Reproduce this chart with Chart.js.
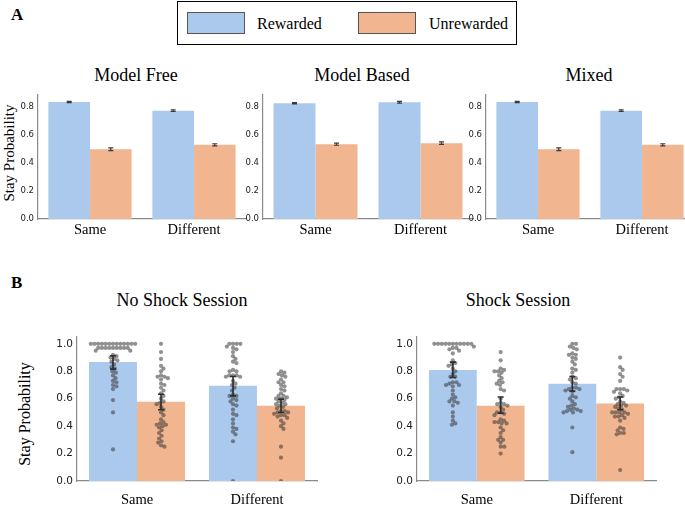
<!DOCTYPE html>
<html>
<head>
<meta charset="utf-8">
<script src="https://cdn.jsdelivr.net/npm/chart.js@4.4.1/dist/chart.umd.min.js"></script>
<style>
  html, body { margin: 0; padding: 0; background: #fff; overflow: hidden; }
  #page { position: relative; width: 685px; height: 505px; overflow: hidden;
          font-family: "Liberation Serif", "Times New Roman", serif; color: #000; }
  #page canvas { position: absolute; }
  .title { position: absolute; white-space: nowrap; transform: translate(-50%, -50%); font-size: 18px; }
  .ylab { position: absolute; white-space: nowrap; transform: translate(-50%, -50%) rotate(-90deg); }
  .letter { position: absolute; font-weight: bold; font-size: 17px; }
  #legend { position: absolute; left: 177px; top: 1px; width: 340px; height: 44px; border: 1px solid #000; box-sizing: border-box; }
  #legend .patch { position: absolute; top: 10px; width: 58px; height: 22px; border: 1px solid #555; box-sizing: border-box; }
  #legend .lab { position: absolute; top: 22px; transform: translateY(-50%); font-size: 16px; white-space: nowrap; }
</style>
</head>
<body>
<div id="page">
  <div class="letter" style="left:11px; top:5px;">A</div>
  <div class="letter" style="left:11px; top:273px;">B</div>
  <div id="legend">
    <div class="patch" id="patch0" style="left:9px;"></div>
    <div class="lab" id="lab0" style="left:79px;"></div>
    <div class="patch" id="patch1" style="left:180px;"></div>
    <div class="lab" id="lab1" style="left:251px;"></div>
  </div>

  <div class="title" style="left:136px; top:75px;">Model Free</div>
  <div class="title" style="left:362px; top:75px;">Model Based</div>
  <div class="title" style="left:589px; top:75px;">Mixed</div>
  <div class="title" style="left:182px; top:300px;">No Shock Session</div>
  <div class="title" style="left:518px; top:300px;">Shock Session</div>
  <div class="ylab" style="left:9px; top:153px; font-size:15px;">Stay Probability</div>
  <div class="ylab" style="left:25px; top:414px; font-size:16px;">Stay Probability</div>

  <canvas id="mf"></canvas>
  <canvas id="mb"></canvas>
  <canvas id="mx"></canvas>
  <canvas id="ns"></canvas>
  <canvas id="nsDots"></canvas>
  <canvas id="sh"></canvas>
  <canvas id="shDots"></canvas>
</div>
<script>
// categories and series
const categories = ['Same', 'Different'];
const seriesNames = ['Rewarded', 'Unrewarded'];
const topTicks = [0, 0.2, 0.4, 0.6, 0.8];
const bottomTicks = [0, 0.2, 0.4, 0.6, 0.8, 1.0];

// panel A: mean stay probability and error half-width
const modelFreeRewarded = [0.838, 0.776];
const modelFreeUnrewarded = [0.500, 0.531];
const modelFreeRewardedErr = [0.005, 0.006];
const modelFreeUnrewardedErr = [0.010, 0.008];

const modelBasedRewarded = [0.829, 0.836];
const modelBasedUnrewarded = [0.536, 0.543];
const modelBasedRewardedErr = [0.005, 0.006];
const modelBasedUnrewardedErr = [0.008, 0.009];

const mixedRewarded = [0.838, 0.776];
const mixedUnrewarded = [0.500, 0.531];
const mixedRewardedErr = [0.005, 0.006];
const mixedUnrewardedErr = [0.010, 0.008];

// panel B: means and confidence intervals
const noShockRewarded = [0.868, 0.695];
const noShockUnrewarded = [0.577, 0.548];
const noShockRewardedCI = [[0.816, 0.913], [0.621, 0.762]];
const noShockUnrewardedCI = [[0.520, 0.633], [0.500, 0.597]];

const shockRewarded = [0.810, 0.709];
const shockUnrewarded = [0.549, 0.565];
const shockRewardedCI = [[0.755, 0.867], [0.655, 0.762]];
const shockUnrewardedCI = [[0.495, 0.612], [0.519, 0.612]];

// individual subjects (swarm dots)
const noShockSameRew = [1,1,1,1,1,1,1,1,1,1,1,1,1,0.97,0.97,0.97,0.97,0.97,0.97,0.97,0.97,0.97,0.95,0.95,
  0.92,0.91,0.90,0.89,0.88,0.87,0.85,0.83,0.82,0.80,0.79,0.77,0.75,0.73,0.72,0.70,0.69,0.67,0.59,0.50,0.23];
const noShockSameUnrew = [1.0,0.94,0.89,0.84,0.82,0.80,0.77,0.76,0.76,0.75,0.74,0.71,0.70,0.68,0.66,0.64,0.62,0.60,
  0.58,0.57,0.56,0.54,0.52,0.50,0.48,0.45,0.43,0.42,0.41,0.41,0.40,0.39,0.37,0.35,0.33,0.31,0.29,0.28,0.26,0.25];
const noShockDiffRew = [1,1,1,1,0.98,0.97,0.96,0.94,0.91,0.89,0.87,0.86,0.81,0.80,0.80,0.77,0.77,0.77,0.76,0.76,
  0.73,0.71,0.70,0.68,0.66,0.63,0.62,0.62,0.60,0.59,0.58,0.56,0.55,0.52,0.49,0.48,0.45,0.42,0.39,0.38,0.36,0.34,0.29,0.0];
const noShockDiffUnrew = [0.80,0.79,0.78,0.77,0.76,0.74,0.72,0.72,0.70,0.69,0.67,0.66,0.64,0.62,0.62,0.61,0.60,0.60,
  0.59,0.58,0.57,0.56,0.56,0.55,0.54,0.53,0.51,0.51,0.50,0.50,0.49,0.48,0.48,0.47,0.46,0.44,0.42,0.40,0.38,0.25,0.17,0.0];

const shockSameRew = [1,1,1,1,1,1,1,1,1,1,1,0.98,0.97,0.97,0.96,0.95,0.93,0.88,0.86,0.85,0.84,0.82,0.80,0.78,0.76,0.76,
  0.72,0.72,0.71,0.70,0.70,0.69,0.66,0.63,0.61,0.60,0.58,0.58,0.57,0.55,0.50,0.47,0.44,0.42,0.41];
const shockSameUnrew = [0.94,0.88,0.82,0.81,0.80,0.80,0.79,0.77,0.75,0.73,0.72,0.71,0.70,0.67,0.66,0.60,0.57,0.56,0.56,
  0.55,0.54,0.52,0.50,0.50,0.49,0.48,0.45,0.44,0.43,0.43,0.42,0.42,0.39,0.37,0.35,0.32,0.30,0.30,0.28,0.25,0.25,0.20];
const shockDiffRew = [1,1,0.98,0.97,0.96,0.93,0.92,0.92,0.90,0.89,0.87,0.85,0.82,0.81,0.79,0.76,0.75,0.74,0.72,0.71,
  0.68,0.68,0.67,0.67,0.66,0.65,0.62,0.61,0.60,0.58,0.56,0.55,0.54,0.53,0.52,0.52,0.51,0.51,0.50,0.50,0.39,0.21];
const shockDiffUnrew = [0.90,0.83,0.81,0.78,0.76,0.73,0.67,0.67,0.67,0.66,0.65,0.64,0.62,0.61,0.60,0.58,0.57,0.56,0.55,
  0.55,0.54,0.53,0.52,0.50,0.50,0.50,0.50,0.49,0.48,0.47,0.47,0.46,0.44,0.39,0.38,0.37,0.35,0.35,0.34,0.08];

const colors = ['#abc9ec', '#f1b58f'];
const serif = '"Liberation Serif", "Times New Roman", serif';
const sans = '"DejaVu Sans", sans-serif';
const groupShift = [-0.2, 0.2]; // where each series sits inside a category

// legend
seriesNames.forEach((n, i) => {
  document.getElementById('patch' + i).style.background = colors[i];
  document.getElementById('lab' + i).textContent = n;
});

// error bars: x from the bar element, or from the linear x scale
const errorBars = {
  id: 'errorBars',
  afterDatasetsDraw(chart, args, opts) {
    const ctx = chart.ctx, y = chart.scales.y;
    (opts.ranges || []).forEach((series, di) => {
      series.forEach((r, j) => {
        const x = opts.linear ? chart.scales.x.getPixelForValue(j + groupShift[di])
                              : chart.getDatasetMeta(di).data[j].x;
        const y0 = y.getPixelForValue(r[0]), y1 = y.getPixelForValue(r[1]);
        ctx.save();
        ctx.strokeStyle = opts.color;
        ctx.lineWidth = opts.width;
        ctx.beginPath();
        ctx.moveTo(x, y0); ctx.lineTo(x, y1);
        ctx.moveTo(x - opts.cap, y0); ctx.lineTo(x + opts.cap, y0);
        ctx.moveTo(x - opts.cap, y1); ctx.lineTo(x + opts.cap, y1);
        ctx.stroke();
        ctx.restore();
      });
    });
  }
};

// simple beeswarm: horizontal offsets in pixels
function beeswarm(ys, d) {
  const order = ys.map((v, i) => i).sort((a, b) => ys[a] - ys[b]);
  const placed = [], out = [];
  for (const i of order) {
    const y = ys[i];
    const near = placed.filter(p => Math.abs(p.y - y) < d);
    const cands = [0];
    near.forEach(p => {
      const dx = Math.sqrt(d * d - (p.y - y) * (p.y - y));
      cands.push(p.x + dx, p.x - dx);
    });
    cands.sort((a, b) => Math.abs(a) - Math.abs(b));
    const x = cands.find(c => near.every(p => (p.x - c) ** 2 + (p.y - y) ** 2 >= d * d - 0.01));
    placed.push({ x, y });
    out[i] = x;
  }
  return out;
}

function sizeCanvas(id, g) {
  const cv = document.getElementById(id);
  cv.style.left = g.x0 + 'px';
  cv.style.top = g.y0 + 'px';
  cv.width = g.x1 - g.x0;
  cv.height = g.y1 - g.y0;
  return cv;
}

function barChart(id, g, o) {
  const cv = sizeCanvas(id, g);
  return new Chart(cv, {
    type: 'bar',
    data: {
      labels: categories,
      datasets: [
        { label: seriesNames[0], data: o.rew, backgroundColor: colors[0], categoryPercentage: 0.8, barPercentage: 1.0 },
        { label: seriesNames[1], data: o.unrew, backgroundColor: colors[1], categoryPercentage: 0.8, barPercentage: 1.0 }
      ]
    },
    options: {
      responsive: false,
      animation: false,
      events: [],
      layout: { padding: { left: 0, top: g.ct - g.y0, right: g.x1 - g.cr, bottom: 0 } },
      scales: {
        x: {
          offset: true,
          grid: { display: false, drawTicks: false },
          border: { display: true, color: '#8a8a8a', width: 1.2 },
          ticks: { font: { family: serif, size: 14.5 }, color: '#000', padding: o.xPad },
          afterFit: s => { s.height = g.y1 - g.cb; }
        },
        y: {
          min: 0, max: o.ymax,
          grid: { display: false, drawTicks: false },
          border: { display: true, color: '#8a8a8a', width: 1.2 },
          ticks: { font: { family: sans, size: o.tickSize }, color: '#222', padding: 4,
                   callback: v => Number(v).toFixed(1) },
          afterBuildTicks: s => { s.ticks = o.ticks.map(v => ({ value: v })); },
          afterFit: s => { s.width = g.cl - g.x0; }
        }
      },
      plugins: {
        legend: { display: false },
        tooltip: { enabled: false },
        errorBars: { ranges: o.dots ? [] : o.ranges, color: '#3a3a3a', width: o.errW, cap: o.cap }
      }
    },
    plugins: [errorBars]
  });
}

// transparent overlay with the same plot area: swarm dots and CIs
function dotChart(id, g, o) {
  const cv = sizeCanvas(id, g);
  const pxPerY = (g.cb - g.ct) / o.ymax;
  const pxPerX = (g.cr - g.cl) / 2;
  const pts = [];
  o.dots.forEach((grp, k) => {
    const cat = k >> 1, ser = k & 1;
    const off = beeswarm(grp.map(v => -v * pxPerY), 3.7);
    grp.forEach((v, i) => pts.push({ x: cat + groupShift[ser] + off[i] / pxPerX, y: v }));
  });
  return new Chart(cv, {
    type: 'scatter',
    data: { datasets: [{ data: pts, pointRadius: 2.1, pointBorderWidth: 0,
                         pointBackgroundColor: 'rgba(55,55,55,0.55)' }] },
    options: {
      responsive: false,
      animation: false,
      events: [],
      layout: { padding: { left: g.cl - g.x0, top: g.ct - g.y0, right: g.x1 - g.cr, bottom: g.y1 - g.cb } },
      scales: {
        x: { type: 'linear', display: false, min: -0.5, max: 1.5 },
        y: { type: 'linear', display: false, min: 0, max: o.ymax }
      },
      plugins: {
        legend: { display: false },
        tooltip: { enabled: false },
        errorBars: { ranges: o.ranges, linear: true, color: '#2e2e2e', width: o.errW, cap: o.cap }
      }
    },
    plugins: [errorBars]
  });
}

function withErr(m, e) { return m.map((v, i) => [v - e[i], v + e[i]]); }

const topOpts = { ymax: 0.888, ticks: topTicks, tickSize: 8.5, xPad: 2, errW: 1.2, cap: 2.5 };
barChart('mf', { x0: 0, x1: 252, y0: 80, y1: 245, cl: 38, cr: 246, ct: 95, cb: 219 },
  Object.assign({ rew: modelFreeRewarded, unrew: modelFreeUnrewarded,
    ranges: [withErr(modelFreeRewarded, modelFreeRewardedErr), withErr(modelFreeUnrewarded, modelFreeUnrewardedErr)] }, topOpts));
barChart('mb', { x0: 240, x1: 478, y0: 80, y1: 245, cl: 263, cr: 473, ct: 95, cb: 219 },
  Object.assign({ rew: modelBasedRewarded, unrew: modelBasedUnrewarded,
    ranges: [withErr(modelBasedRewarded, modelBasedRewardedErr), withErr(modelBasedUnrewarded, modelBasedUnrewardedErr)] }, topOpts));
barChart('mx', { x0: 464, x1: 700, y0: 80, y1: 245, cl: 486, cr: 694, ct: 95, cb: 219 },
  Object.assign({ rew: mixedRewarded, unrew: mixedUnrewarded,
    ranges: [withErr(mixedRewarded, mixedRewardedErr), withErr(mixedUnrewarded, mixedUnrewardedErr)] }, topOpts));

const botOpts = { ymax: 1.05, ticks: bottomTicks, tickSize: 10.5, xPad: 10, errW: 1.6, cap: 3 };
const nsGeom = { x0: 37, x1: 325, y0: 320, y1: 505, cl: 77, cr: 317, ct: 337, cb: 481 };
const nsOpts = Object.assign({ rew: noShockRewarded, unrew: noShockUnrewarded,
    ranges: [noShockRewardedCI, noShockUnrewardedCI],
    dots: [noShockSameRew, noShockSameUnrew, noShockDiffRew, noShockDiffUnrew] }, botOpts);
barChart('ns', nsGeom, nsOpts);
dotChart('nsDots', nsGeom, nsOpts);

const shGeom = { x0: 377, x1: 665, y0: 320, y1: 505, cl: 417, cr: 656, ct: 337, cb: 481 };
const shOpts = Object.assign({ rew: shockRewarded, unrew: shockUnrewarded,
    ranges: [shockRewardedCI, shockUnrewardedCI],
    dots: [shockSameRew, shockSameUnrew, shockDiffRew, shockDiffUnrew] }, botOpts);
barChart('sh', shGeom, shOpts);
dotChart('shDots', shGeom, shOpts);
</script>
</body>
</html>
